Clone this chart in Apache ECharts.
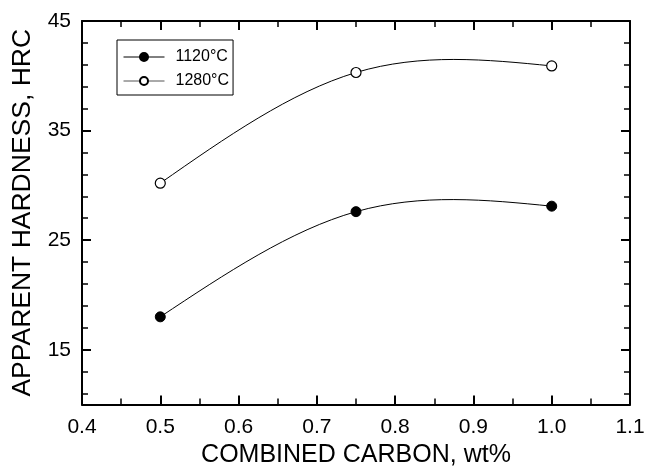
<!DOCTYPE html>
<html>
<head>
<meta charset="utf-8">
<script src="https://cdn.jsdelivr.net/npm/echarts@6/dist/echarts.min.js"></script>
<style>
  html, body { margin: 0; padding: 0; background: #fff; }
  #chart { width: 648px; height: 467px; }
</style>
</head>
<body>
<div id="chart"></div>
<script>
// Combined carbon content (wt%)
const carbon = [0.5, 0.75, 1.0];
// Apparent hardness (HRC) after sintering at each temperature
const hard1120 = [18.0, 27.6, 28.1];
const hard1280 = [30.2, 40.3, 40.9];
const seriesNames = ['1120\u00B0C', '1280\u00B0C'];

// Y-axis tick positions
const yMajor = [15, 25, 35, 45];
const yMinor = [11, 13, 17, 19, 21, 23, 27, 29, 31, 33, 37, 39, 41, 43];

const FONT = 'Liberation Sans, Arial, sans-serif';
const BLACK = '#000';

function pairs(xs, ys) { return xs.map((x, i) => [x, ys[i]]); }

// Natural cubic spline slopes at each knot (tridiagonal solve).
function splineSlopes(xs, ys) {
  const n = xs.length;
  const h = [], d = [];
  for (let i = 0; i < n - 1; i++) {
    h.push(xs[i + 1] - xs[i]);
    d.push((ys[i + 1] - ys[i]) / h[i]);
  }
  // second derivatives M, with M[0] = M[n-1] = 0
  const M = new Array(n).fill(0);
  if (n > 2) {
    const a = [], b = [], c = [], r = [];
    for (let i = 1; i < n - 1; i++) {
      a.push(h[i - 1]); b.push(2 * (h[i - 1] + h[i])); c.push(h[i]);
      r.push(6 * (d[i] - d[i - 1]));
    }
    const m = b.length;
    for (let i = 1; i < m; i++) {
      const w = a[i] / b[i - 1];
      b[i] -= w * c[i - 1]; r[i] -= w * r[i - 1];
    }
    const sol = new Array(m);
    sol[m - 1] = r[m - 1] / b[m - 1];
    for (let i = m - 2; i >= 0; i--) sol[i] = (r[i] - c[i] * sol[i + 1]) / b[i];
    for (let i = 0; i < m; i++) M[i + 1] = sol[i];
  }
  const s = [];
  for (let i = 0; i < n; i++) {
    if (i < n - 1) s.push(d[i] - h[i] * (2 * M[i] + M[i + 1]) / 6);
    else s.push(d[i - 1] + h[i - 1] * (M[i - 1] + 2 * M[i]) / 6);
  }
  return s;
}

// Custom series drawing the spline through the data as cubic Bezier segments.
function splineSeries(name, xs, ys) {
  const slopes = splineSlopes(xs, ys);
  return {
    name: name, type: 'custom', xAxisIndex: 0, yAxisIndex: 0, z: 1,
    silent: true,
    data: pairs(xs, ys),
    renderItem: function (params, api) {
      if (params.dataIndex !== 0) return null;
      const p0 = api.coord([xs[0], ys[0]]);
      let d = 'M' + p0[0] + ' ' + p0[1];
      for (let i = 0; i < xs.length - 1; i++) {
        const h = xs[i + 1] - xs[i];
        const c1 = api.coord([xs[i] + h / 3, ys[i] + slopes[i] * h / 3]);
        const c2 = api.coord([xs[i + 1] - h / 3, ys[i + 1] - slopes[i + 1] * h / 3]);
        const p = api.coord([xs[i + 1], ys[i + 1]]);
        d += ' C' + c1[0] + ' ' + c1[1] + ' ' + c2[0] + ' ' + c2[1] + ' ' + p[0] + ' ' + p[1];
      }
      return {
        type: 'path',
        shape: { pathData: d },
        style: { fill: null, stroke: BLACK, lineWidth: 1 }
      };
    }
  };
}

function yAxisDef(pos, values, len, extra) {
  return Object.assign({
    type: 'value', position: pos, min: 10, max: 45,
    splitLine: { show: false },
    axisLine: { show: false },
    axisTick: { show: true, inside: true, length: len, customValues: values,
                lineStyle: { color: BLACK, width: len > 7 ? 2 : 1.5 } },
    axisLabel: { show: false }
  }, extra || {});
}

const chart = echarts.init(document.getElementById('chart'), null, { renderer: 'canvas' });
chart.setOption({
  animation: false,
  backgroundColor: '#fff',
  textStyle: { fontFamily: FONT, color: BLACK },
  grid: { left: 82, right: 18, top: 21, bottom: 62.5, containLabel: false, outerBoundsMode: 'none' },
  legend: {
    orient: 'vertical',
    left: 117, top: 40,
    padding: [9, 4, 6, 6],
    borderColor: BLACK, borderWidth: 1,
    backgroundColor: '#fff',
    itemWidth: 41, itemHeight: 10, itemGap: 8,
    textStyle: { fontFamily: FONT, fontSize: 16, color: BLACK, lineHeight: 16, padding: [0, 0, 0, 6] },
    data: [
      { name: seriesNames[0], lineStyle: { color: BLACK, width: 1, opacity: 1 } },
      { name: seriesNames[1], lineStyle: { color: '#555', width: 1, opacity: 1 } }
    ]
  },
  xAxis: [
    {
      type: 'value', position: 'bottom', min: 0.4, max: 1.1, interval: 0.1,
      name: 'COMBINED CARBON, wt%', nameLocation: 'middle', nameGap: 37,
      nameTextStyle: { fontFamily: FONT, fontSize: 25, color: BLACK },
      splitLine: { show: false },
      axisLine: { show: true, onZero: false, lineStyle: { color: BLACK, width: 2 } },
      axisTick: { show: true, inside: true, length: 9, lineStyle: { color: BLACK, width: 2 } },
      minorTick: { show: true, splitNumber: 2, length: 6, lineStyle: { color: BLACK, width: 1.5 } },
      axisLabel: { show: true, margin: 12, fontFamily: FONT, fontSize: 21, color: BLACK,
                   formatter: v => v.toFixed(1) }
    },
    {
      type: 'value', position: 'top', min: 0.4, max: 1.1, interval: 0.1,
      splitLine: { show: false },
      axisLine: { show: true, onZero: false, lineStyle: { color: BLACK, width: 2 } },
      axisTick: { show: true, inside: true, length: 9, lineStyle: { color: BLACK, width: 2 } },
      minorTick: { show: true, splitNumber: 2, length: 6, lineStyle: { color: BLACK, width: 1.5 } },
      axisLabel: { show: false }
    }
  ],
  yAxis: [
    yAxisDef('left', yMajor, 9, {
      name: 'APPARENT HARDNESS, HRC', nameLocation: 'middle', nameGap: 46,
      nameTextStyle: { fontFamily: FONT, fontSize: 26.5, color: BLACK },
      axisLine: { show: true, onZero: false, lineStyle: { color: BLACK, width: 2 } },
      axisLabel: { show: true, margin: 11, customValues: yMajor,
                   fontFamily: FONT, fontSize: 21, color: BLACK }
    }),
    yAxisDef('left', yMinor, 6),
    yAxisDef('right', yMajor, 9, {
      axisLine: { show: true, onZero: false, lineStyle: { color: BLACK, width: 2 } }
    }),
    yAxisDef('right', yMinor, 6)
  ],
  series: [
    splineSeries('curve1120', carbon, hard1120),
    splineSeries('curve1280', carbon, hard1280),
    {
      name: seriesNames[0], type: 'line', xAxisIndex: 0, yAxisIndex: 0, z: 3,
      data: pairs(carbon, hard1120),
      symbol: 'circle', symbolSize: 10,
      lineStyle: { color: BLACK, width: 1, opacity: 0 },
      itemStyle: { color: BLACK, borderColor: BLACK, borderWidth: 1 }
    },
    {
      name: seriesNames[1], type: 'line', xAxisIndex: 0, yAxisIndex: 0, z: 3,
      data: pairs(carbon, hard1280),
      symbol: 'circle', symbolSize: 10,
      lineStyle: { color: BLACK, width: 1, opacity: 0 },
      itemStyle: { color: '#fff', borderColor: BLACK, borderWidth: 1.2 }
    }
  ]
});
</script>
</body>
</html>
